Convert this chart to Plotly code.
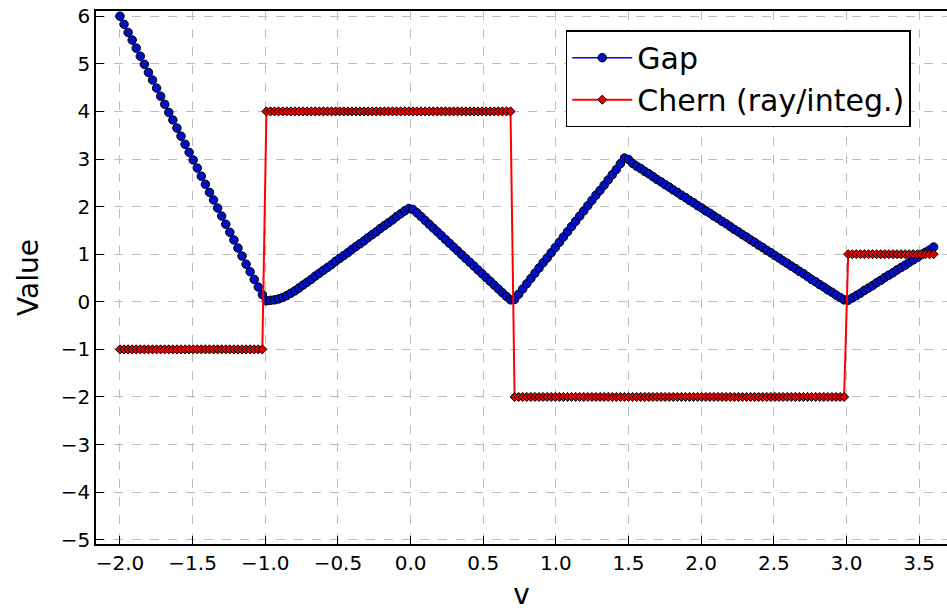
import numpy as np
import plotly.graph_objects as go

# Sampling grid of the parameter v
v_start = -2.0
v_stop = 3.6
n_points = 201

# Gap values, one per sample (k = 0..200)
gap = [
    6.00, 5.83, 5.66, 5.50, 5.33, 5.16, 4.99, 4.82, 4.66, 4.49,
    4.32, 4.15, 3.98, 3.82, 3.65, 3.48, 3.31, 3.14, 2.98, 2.81,
    2.64, 2.47, 2.30, 2.14, 1.97, 1.80, 1.63, 1.46, 1.30, 1.13,
    0.96, 0.79, 0.63, 0.47, 0.31, 0.15,
    0.02, 0.03, 0.04, 0.06, 0.09, 0.13, 0.18, 0.23, 0.29, 0.35,
    0.41, 0.47, 0.54, 0.60, 0.66, 0.72, 0.78, 0.85, 0.91, 0.97,
    1.03, 1.10, 1.16, 1.22, 1.28, 1.35, 1.41, 1.47, 1.54, 1.60,
    1.66, 1.72, 1.79, 1.85, 1.91, 1.96,
    1.94, 1.87, 1.79, 1.71, 1.63, 1.55, 1.47, 1.39, 1.31, 1.23,
    1.15, 1.07, 0.99, 0.91, 0.83, 0.75, 0.67, 0.59, 0.51, 0.43,
    0.35, 0.27, 0.19, 0.11, 0.04,
    0.05, 0.16, 0.27, 0.38, 0.49, 0.60, 0.71, 0.82, 0.92, 1.03,
    1.14, 1.25, 1.36, 1.47, 1.58, 1.69, 1.80, 1.91, 2.02, 2.13,
    2.24, 2.34, 2.45, 2.56, 2.67, 2.78, 2.90, 3.02,
    2.99, 2.91, 2.85, 2.80, 2.74, 2.69, 2.63, 2.57, 2.52, 2.46,
    2.41, 2.35, 2.30, 2.24, 2.19, 2.13, 2.08, 2.02, 1.97, 1.91,
    1.86, 1.80, 1.75, 1.69, 1.64, 1.58, 1.52, 1.47, 1.41, 1.36,
    1.30, 1.25, 1.19, 1.14, 1.08, 1.03, 0.97, 0.92, 0.86, 0.81,
    0.75, 0.70, 0.64, 0.59, 0.53, 0.47, 0.42, 0.36, 0.31, 0.25,
    0.20, 0.14, 0.09, 0.04,
    0.03, 0.08, 0.13, 0.18, 0.24, 0.29, 0.34, 0.40, 0.45, 0.51,
    0.56, 0.61, 0.67, 0.72, 0.77, 0.83, 0.88, 0.93, 0.99, 1.04,
    1.09, 1.15,
]

# Chern number plateaus: (value, number of consecutive samples)
chern_runs = [(-1, 36), (4, 61), (-2, 82), (1, 22)]

x_ticks = [-2.0, -1.5, -1.0, -0.5, 0.0, 0.5, 1.0, 1.5, 2.0, 2.5, 3.0, 3.5]
y_ticks = [-5, -4, -3, -2, -1, 0, 1, 2, 3, 4, 5, 6]

v = np.linspace(v_start, v_stop, n_points)
chern = []
for val, cnt in chern_runs:
    chern.extend([val] * cnt)

FONT = "DejaVu Sans"

fig = go.Figure()
fig.add_trace(go.Scatter(
    x=v, y=gap, mode="lines+markers", name="Gap",
    line=dict(color="#0000ff", width=1.5),
    marker=dict(symbol="circle", size=8.5, color="#0010c8",
                line=dict(color="black", width=1)),
))
fig.add_trace(go.Scatter(
    x=v, y=chern, mode="lines+markers", name="Chern (ray/integ.)",
    line=dict(color="#ff0000", width=2),
    marker=dict(symbol="diamond", size=7, color="#e00000",
                line=dict(color="black", width=1)),
))

axis_common = dict(
    showgrid=True, gridcolor="#bdbdbd", griddash="dash", gridwidth=1,
    showline=True, linecolor="black", linewidth=1.5,
    ticks="inside", ticklen=8, tickwidth=1.2, tickcolor="black",
    tickfont=dict(family=FONT, size=20, color="black"),
    zeroline=False, automargin=False,
)

fig.update_xaxes(
    range=[-2.165, 3.692], tickvals=x_ticks, tickformat=".1f",
    mirror=True,
    title=dict(text="v", font=dict(family=FONT, size=28, color="black"), standoff=15),
    **axis_common,
)
fig.update_yaxes(
    range=[-5.09, 6.11], tickvals=y_ticks,
    title=dict(text="Value", font=dict(family=FONT, size=28, color="black"), standoff=14),
    **axis_common,
)

fig.update_layout(
    width=947, height=611,
    margin=dict(l=96, r=0, t=11, b=67),
    paper_bgcolor="white", plot_bgcolor="white",
    font=dict(family=FONT, color="black"),
    legend=dict(
        x=0.552, y=0.964, xanchor="left", yanchor="top",
        bgcolor="white", bordercolor="black", borderwidth=1.5,
        font=dict(family=FONT, size=30, color="black"),
        itemwidth=60, tracegroupgap=0,
    ),
    showlegend=True,
)

fig.write_html("out.html", config={"displayModeBar": False},
               post_script="document.body.style.margin='0';")
